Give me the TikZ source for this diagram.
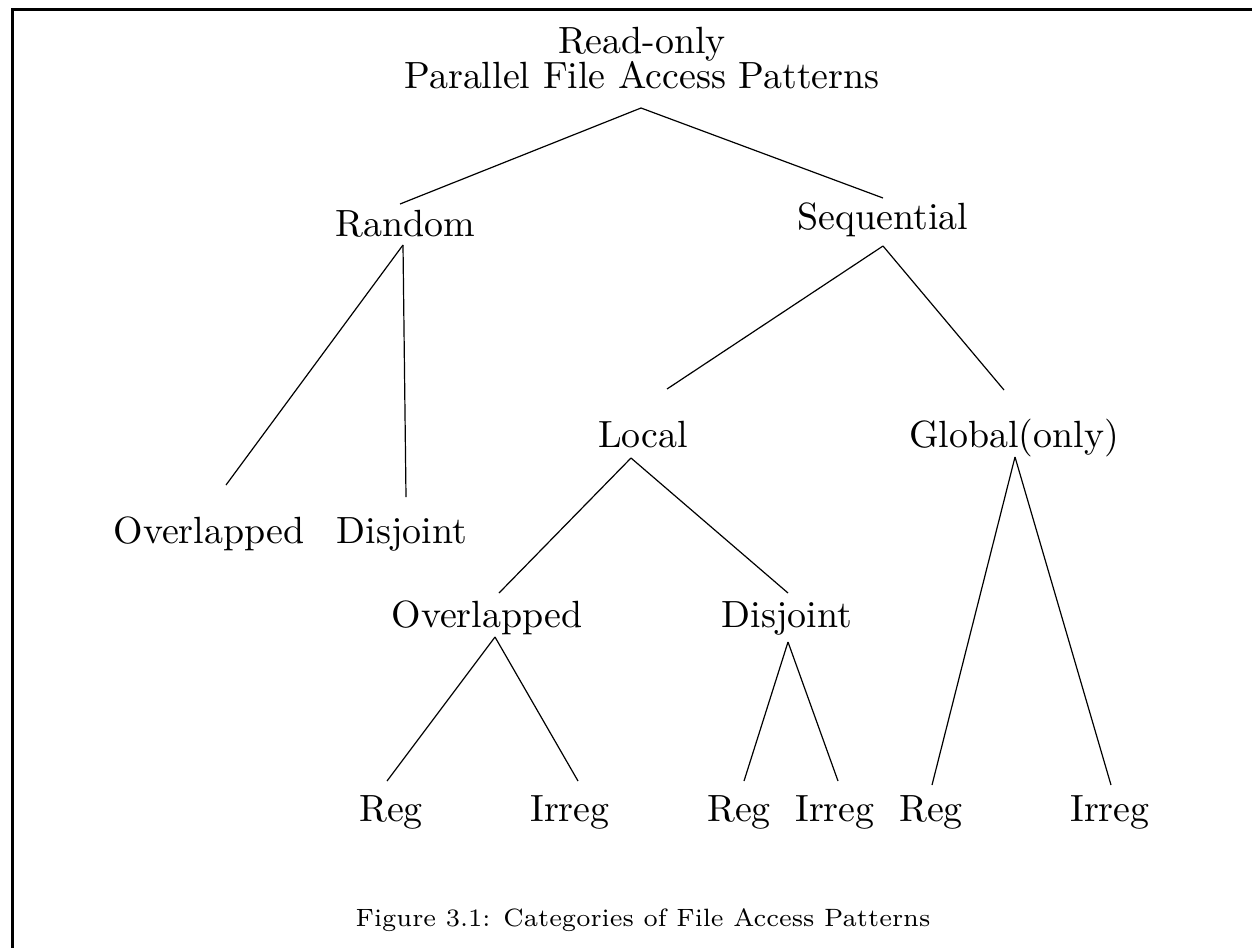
\documentclass[tikz,border=0pt]{standalone}
\usetikzlibrary{calc}
\begin{document}
\begin{tikzpicture}[x=1pt,y=-1pt,
  lbl/.style={anchor=base,inner sep=0pt,font=\fontsize{10}{12}\selectfont,scale=3.79},
  captionlbl/.style={anchor=base,inner sep=0pt,font=\fontsize{7}{8}\selectfont,scale=3.58},
  branch/.style={line width=1.2pt},
  frameline/.style={line width=3pt}]
\useasboundingbox (0,0) rectangle (1252,948);
% partial frame: top and left edges
\draw[frameline] (1252,9) -- (12.5,9) -- (12.5,948);

% labels of the category tree
\node[lbl] (title)  at (642,53)   {Read-only};
\node[lbl] (root)   at (642,88)   {Parallel File Access Patterns};
\node[lbl] (random) at (405,236)  {Random};
\node[lbl] (seq)    at (883,229)  {Sequential};
\node[lbl] (ovl)    at (209,543)  {Overlapped};
\node[lbl] (dis)    at (402,543)  {Disjoint};
\node[lbl] (local)  at (643,447)  {Local};
\node[lbl] (global) at (1014,447) {Global(only)};
\node[lbl] (lovl)   at (487,627)  {Overlapped};
\node[lbl] (ldis)   at (787,627)  {Disjoint};
\node[lbl] (reg1)   at (391,821)  {Reg};
\node[lbl] (irreg1) at (570,821)  {Irreg};
\node[lbl] (reg2)   at (739,821)  {Reg};
\node[lbl] (irreg2) at (835,821)  {Irreg};
\node[lbl] (reg3)   at (931,821)  {Reg};
\node[lbl] (irreg3) at (1110,821) {Irreg};

\node[captionlbl] (cap) at (643,926) {Figure 3.1: Categories of File Access Patterns};

% fork points below each parent label
\coordinate (rootfork)   at ($(root.base)+(-1,20)$);
\coordinate (randomfork) at ($(random.base)+(-2,9)$);
\coordinate (seqfork)    at ($(seq.base)+(0,17)$);
\coordinate (localfork)  at ($(local.base)+(-12,11)$);
\coordinate (globalfork) at ($(global.base)+(1,10)$);
\coordinate (lovlfork)   at ($(lovl.base)+(8,10)$);
\coordinate (ldisfork)   at ($(ldis.base)+(1,15)$);

% branches
\draw[branch] (rootfork) -- ($(random.base)+(-5,-32)$);
\draw[branch] (rootfork) -- ($(seq.base)+(0,-31)$);
\draw[branch] (randomfork) -- ($(ovl.base)+(17,-58)$);
\draw[branch] (randomfork) -- ($(dis.base)+(4,-46)$);
\draw[branch] (seqfork) -- ($(local.base)+(24,-58)$);
\draw[branch] (seqfork) -- ($(global.base)+(-10,-57)$);
\draw[branch] (localfork) -- ($(lovl.base)+(12,-34)$);
\draw[branch] (localfork) -- ($(ldis.base)+(1,-34)$);
\draw[branch] (globalfork) -- ($(reg3.base)+(1,-36)$);
\draw[branch] (globalfork) -- ($(irreg3.base)+(1,-36)$);
\draw[branch] (lovlfork) -- ($(reg1.base)+(-4,-40)$);
\draw[branch] (lovlfork) -- ($(irreg1.base)+(8,-40)$);
\draw[branch] (ldisfork) -- ($(reg2.base)+(5,-40)$);
\draw[branch] (ldisfork) -- ($(irreg2.base)+(3,-40)$);
\end{tikzpicture}
\end{document}
